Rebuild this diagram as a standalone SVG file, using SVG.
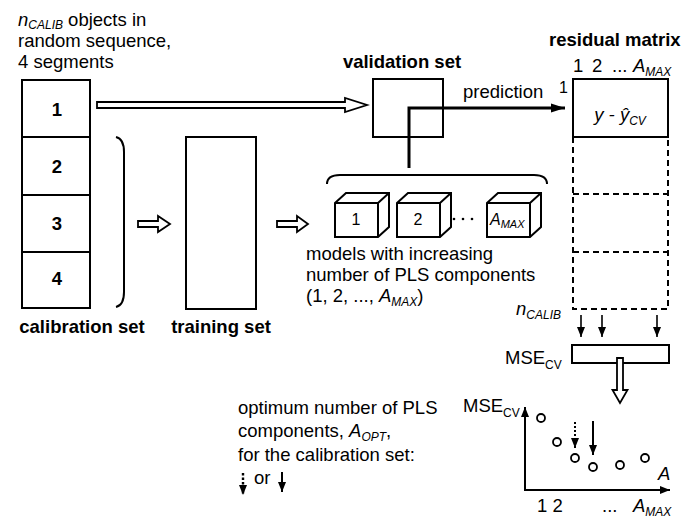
<svg xmlns="http://www.w3.org/2000/svg" width="684" height="516" viewBox="0 0 684 516">
<style>
text{font-family:"Liberation Sans",Arial,sans-serif;font-size:18.5px;fill:#000}
.b{font-weight:bold}
.i{font-style:italic}
.s{font-size:12px;font-style:italic}
.box{fill:#fff;stroke:#000;stroke-width:2}
.dash{fill:none;stroke:#000;stroke-width:2;stroke-dasharray:6 4}
.hol{fill:#fff;stroke:#000;stroke-width:1.8;stroke-linejoin:miter}
.ln{fill:none;stroke:#000;stroke-width:2}
.thin{fill:none;stroke:#000;stroke-width:1.6}
.pt{fill:#fff;stroke:#000;stroke-width:1.8}
</style>
<defs>
<marker id="ah" viewBox="0 0 10 10" refX="10" refY="5" markerWidth="10" markerHeight="10" markerUnits="userSpaceOnUse" orient="auto">
<path d="M0,1 L10,5 L0,9 Z" fill="#000"/>
</marker>
<marker id="ahb" viewBox="0 0 14 10" refX="14" refY="5" markerWidth="14" markerHeight="10" markerUnits="userSpaceOnUse" orient="auto">
<path d="M0,0.5 L14,5 L0,9.5 Z" fill="#000"/>
</marker>
</defs>

<g id="intro-text">
<text x="18" y="26"><tspan class="i">n</tspan><tspan class="s" dy="3">CALIB</tspan><tspan dy="-3"> objects in</tspan></text>
<text x="18" y="47">random sequence,</text>
<text x="18" y="68">4 segments</text>
</g>

<g id="calibration-set">
<rect class="box" x="22" y="80" width="68" height="228"/>
<line class="ln" x1="22" y1="137" x2="90" y2="137"/>
<line class="ln" x1="22" y1="195" x2="90" y2="195"/>
<line class="ln" x1="22" y1="252" x2="90" y2="252"/>
<text class="b" x="57" y="116" text-anchor="middle">1</text>
<text class="b" x="57" y="173" text-anchor="middle">2</text>
<text class="b" x="57" y="230" text-anchor="middle">3</text>
<text class="b" x="57" y="285" text-anchor="middle">4</text>
<text class="b" x="82" y="333" text-anchor="middle">calibration set</text>
</g>

<g id="calib-bracket">
<path class="ln" d="M116,137 Q124,139 124,152 L124,292 Q124,305 116,307"/>
</g>

<g id="training-set">
<rect class="box" x="186" y="137" width="70" height="172"/>
<text class="b" x="221" y="333" text-anchor="middle">training set</text>
</g>

<g id="validation-set">
<rect class="box" x="373" y="79" width="70" height="58"/>
<text class="b" x="402" y="68" text-anchor="middle">validation set</text>
</g>

<g id="models">
<path class="ln" d="M327,184 Q327,175 340,175 L534,175 Q547,175 547,184"/>
<g id="model-1">
<path class="box" d="M335,203 L346,193 L389,193 L389,227 L378,237 L335,237 Z"/>
<path class="ln" d="M335,203 L378,203 L389,193 M378,203 L378,237"/>
<text x="356" y="225" text-anchor="middle" style="font-size:16px">1</text>
</g>
<g id="model-2">
<path class="box" d="M397,203 L408,193 L451,193 L451,227 L440,237 L397,237 Z"/>
<path class="ln" d="M397,203 L440,203 L451,193 M440,203 L440,237"/>
<text x="418" y="225" text-anchor="middle" style="font-size:16px">2</text>
</g>
<g id="model-dots">
<circle cx="454" cy="219" r="1.3"/>
<circle cx="463" cy="219" r="1.3"/>
<circle cx="472" cy="219" r="1.3"/>
</g>
<g id="model-amax">
<path class="box" d="M487,203 L498,193 L541,193 L541,227 L530,237 L487,237 Z"/>
<path class="ln" d="M487,203 L530,203 L541,193 M530,203 L530,237"/>
<text x="490" y="225" style="font-size:16px"><tspan class="i">A</tspan><tspan class="s" style="font-size:11px" dy="3">MAX</tspan></text>
</g>
<text x="306" y="260">models with increasing</text>
<text x="306" y="281">number of PLS components</text>
<text x="306" y="302">(1, 2, ..., <tspan class="i">A</tspan><tspan class="s" dy="4">MAX</tspan><tspan dy="-4">)</tspan></text>
</g>

<g id="residual-matrix">
<text class="b" x="549" y="46">residual matrix</text>
<text x="573" y="72">1</text>
<text x="592" y="72">2</text>
<text x="612" y="72">...</text>
<text x="633" y="72"><tspan class="i">A</tspan><tspan class="s" dy="4">MAX</tspan></text>
<text x="559" y="93" style="font-size:16px">1</text>
<rect class="box" x="573" y="79" width="95" height="58"/>
<path class="dash" d="M573,137 L573,309 L668,309 L668,137 M573,194 L668,194 M573,252 L668,252"/>
<text x="620" y="121" text-anchor="middle"><tspan class="i">y - ŷ</tspan><tspan class="s" dy="4">CV</tspan></text>
<text x="516" y="315"><tspan class="i">n</tspan><tspan class="s" dy="4">CALIB</tspan></text>
</g>

<g id="mse-cv">
<text x="505" y="364">MSE<tspan style="font-size:12px" dy="5">CV</tspan></text>
<rect class="box" x="572" y="345" width="97" height="18"/>
</g>

<g id="graph">
<text x="463" y="412">MSE<tspan style="font-size:12px" dy="5">CV</tspan></text>
<line class="ln" x1="525" y1="491" x2="525" y2="407" marker-end="url(#ah)"/>
<line class="ln" x1="524" y1="490" x2="670" y2="490" marker-end="url(#ah)"/>
<text class="i" x="658" y="480">A</text>
<circle class="pt" cx="541" cy="418" r="4"/>
<circle class="pt" cx="557" cy="442" r="4"/>
<circle class="pt" cx="575" cy="458" r="4"/>
<circle class="pt" cx="593" cy="467" r="4"/>
<circle class="pt" cx="620" cy="465" r="4"/>
<circle class="pt" cx="645" cy="458" r="4"/>
<line x1="575" y1="422" x2="575" y2="448" stroke="#000" stroke-width="2" stroke-dasharray="2 2" marker-end="url(#ah)"/>
<line class="ln" x1="593" y1="421" x2="593" y2="455" marker-end="url(#ah)"/>
<text x="537" y="512">1 2</text>
<text x="602" y="512">...</text>
<text x="633" y="512"><tspan class="i">A</tspan><tspan class="s" dy="4">MAX</tspan></text>
</g>

<g id="optimum-text">
<text x="238" y="414">optimum number of PLS</text>
<text x="238" y="437">components, <tspan class="i">A</tspan><tspan class="s" dy="4">OPT</tspan><tspan dy="-4">,</tspan></text>
<text x="238" y="461">for the calibration set:</text>
<line x1="243" y1="473" x2="243" y2="495" stroke="#000" stroke-width="2.4" stroke-dasharray="2.5 2" marker-end="url(#ah)"/>
<text x="254" y="484">or</text>
<line class="ln" x1="282" y1="472" x2="282" y2="492" marker-end="url(#ah)"/>
</g>

<g id="connectors">
<path class="hol" d="M97,102 L345,102 L345,98 L367,105 L345,112 L345,108 L97,108 Z"/>
<path class="hol" d="M138,221 L158,221 L158,216 L170,224 L158,232 L158,227 L138,227 Z"/>
<path class="hol" d="M277,221 L297,221 L297,216 L308,224 L297,232 L297,227 L277,227 Z"/>
<path d="M409,168 L409,108 L565,108" fill="none" stroke="#000" stroke-width="3" marker-end="url(#ahb)"/>
<text x="463" y="98">prediction</text>
<line class="thin" x1="581" y1="315" x2="581" y2="337" marker-end="url(#ah)"/>
<line class="thin" x1="602" y1="315" x2="602" y2="337" marker-end="url(#ah)"/>
<line class="thin" x1="657" y1="315" x2="657" y2="337" marker-end="url(#ah)"/>
<path class="hol" d="M617,358 L623,358 L623,390 L627.5,390 L620,403 L612.5,390 L617,390 Z"/>
</g>
</svg>
